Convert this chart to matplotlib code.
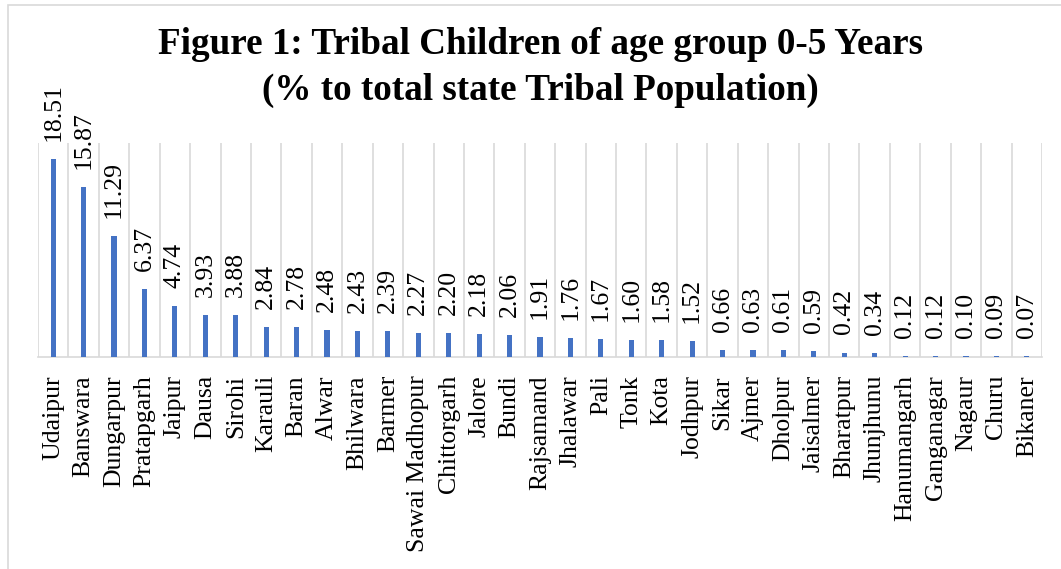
import matplotlib.pyplot as plt
import numpy as np

districts = ["Udaipur", "Banswara", "Dungarpur", "Pratapgarh", "Jaipur", "Dausa", "Sirohi",
             "Karauli", "Baran", "Alwar", "Bhilwara", "Barmer", "Sawai Madhopur", "Chittorgarh",
             "Jalore", "Bundi", "Rajsamand", "Jhalawar", "Pali", "Tonk", "Kota", "Jodhpur",
             "Sikar", "Ajmer", "Dholpur", "Jaisalmer", "Bharatpur", "Jhunjhunu", "Hanumangarh",
             "Ganganagar", "Nagaur", "Churu", "Bikaner"]
share = [18.51, 15.87, 11.29, 6.37, 4.74, 3.93, 3.88, 2.84, 2.78, 2.48, 2.43, 2.39, 2.27,
         2.20, 2.18, 2.06, 1.91, 1.76, 1.67, 1.60, 1.58, 1.52, 0.66, 0.63, 0.61, 0.59, 0.42,
         0.34, 0.12, 0.12, 0.10, 0.09, 0.07]

plt.rcParams['font.family'] = ['Liberation Serif', 'DejaVu Serif']

fig = plt.figure(figsize=(10.61, 5.69), dpi=100)
ax = fig.add_axes([38 / 1061, 1 - 357 / 569, (1042 - 38) / 1061, (357 - 143) / 569])

x = np.arange(len(districts))
ax.bar(x, share, width=0.17, color="#4472C4", zorder=3)

# value labels above each bar
for xi, v in zip(x, share):
    ax.annotate(f"{v:.2f}", (xi, v), xytext=(0, 13), textcoords="offset points",
                rotation=90, ha="center", va="bottom", fontsize=18.5,
                annotation_clip=False)

ax.set_xlim(-0.5, len(districts) - 0.5)
ax.set_ylim(0, 20)
ax.set_xticks(x)
ax.set_xticklabels(districts, rotation=90, fontsize=18.5)
ax.tick_params(axis="x", length=0, pad=13)
ax.set_yticks([])
ax.set_xticks(np.arange(-0.5, len(districts)), minor=True)
ax.tick_params(axis="x", which="minor", length=0)
ax.grid(True, which="minor", axis="x", color="#D9D9D9", linewidth=1.2, zorder=0)
for s in ["top", "left", "right"]:
    ax.spines[s].set_visible(False)
ax.spines["bottom"].set_color("#D9D9D9")
ax.spines["bottom"].set_linewidth(1.2)

fig.text(540 / 1061, 1 - 45 / 569, "Figure 1: Tribal Children of age group 0-5 Years",
         ha="center", va="center", fontsize=26.7, fontweight="bold")
fig.text(540 / 1061, 1 - 90 / 569, "(% to total state Tribal Population)",
         ha="center", va="center", fontsize=26.7, fontweight="bold")

# outer chart frame
fig.add_artist(plt.Rectangle((8 / 1061, -0.05), 1.1, 1 - 5 / 569 + 0.05,
                             transform=fig.transFigure, fill=False,
                             edgecolor="#D9D9D9", linewidth=1.2))

fig.savefig("out.png", dpi=100)
